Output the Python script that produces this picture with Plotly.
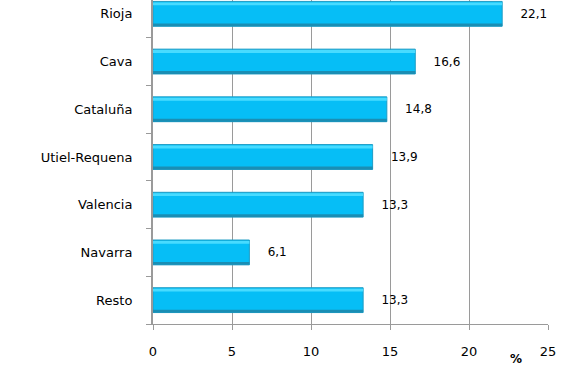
import plotly.graph_objects as go

categories = ["Resto", "Navarra", "Valencia", "Utiel-Requena", "Cataluña", "Cava", "Rioja"]
values = [13.3, 6.1, 13.3, 13.9, 14.8, 16.6, 22.1]
x_ticks = [0, 5, 10, 15, 20, 25]

labels = ["    " + f"{v:.1f}".replace(".", ",") for v in values]

FONT = "DejaVu Sans"

fig = go.Figure()
# main bar body
fig.add_trace(go.Bar(
    y=categories, x=values, orientation="h",
    width=0.52, offset=-0.26,
    marker=dict(color="#06BEF6", line=dict(color="#1E9CC4", width=1)),
    text=labels, textposition="outside", cliponaxis=False,
    textfont=dict(family=FONT, size=12, color="black"),
    hoverinfo="skip",
))
# top highlight (bevel)
fig.add_trace(go.Bar(
    y=categories, x=values, orientation="h",
    width=0.06, offset=0.18,
    marker=dict(color="#48DBFF", line=dict(width=0)),
    hoverinfo="skip",
))
# bottom shade (bevel)
fig.add_trace(go.Bar(
    y=categories, x=values, orientation="h",
    width=0.06, offset=-0.26,
    marker=dict(color="#1A8EB4", line=dict(width=0)),
    hoverinfo="skip",
))

fig.update_layout(
    width=561, height=365,
    margin=dict(l=153, r=13, t=0, b=41),
    paper_bgcolor="white", plot_bgcolor="white",
    showlegend=False, barmode="overlay",
    font=dict(family=FONT, size=12, color="black"),
    xaxis=dict(
        range=[0, 25], tickvals=x_ticks, ticktext=[str(t) for t in x_ticks],
        showgrid=True, gridcolor="#9A9A9A", gridwidth=1,
        showline=True, linecolor="#9A9A9A", linewidth=1,
        ticks="outside", ticklen=5, tickcolor="#9A9A9A",
        ticklabelstandoff=10, zeroline=False,
        tickfont=dict(family=FONT, size=13),
    ),
    yaxis=dict(
        type="category", categoryorder="array", categoryarray=categories,
        range=[-0.5, 6.29],
        showline=True, linecolor="#9A9A9A", linewidth=2,
        ticks="outside", ticklen=5, tickcolor="#9A9A9A", tickson="boundaries",
        showgrid=False, zeroline=False,
        ticklabelstandoff=16,
        tickfont=dict(family=FONT, size=13),
    ),
    annotations=[
        dict(text="%", xref="paper", yref="paper", x=0.94, y=0, yanchor="top",
             yshift=-26, showarrow=False,
             font=dict(family=FONT, size=12, color="black", weight="bold")),
    ],
)

fig.write_html("out.html", config={"displayModeBar": False},
               post_script="document.body.style.margin='0';")
